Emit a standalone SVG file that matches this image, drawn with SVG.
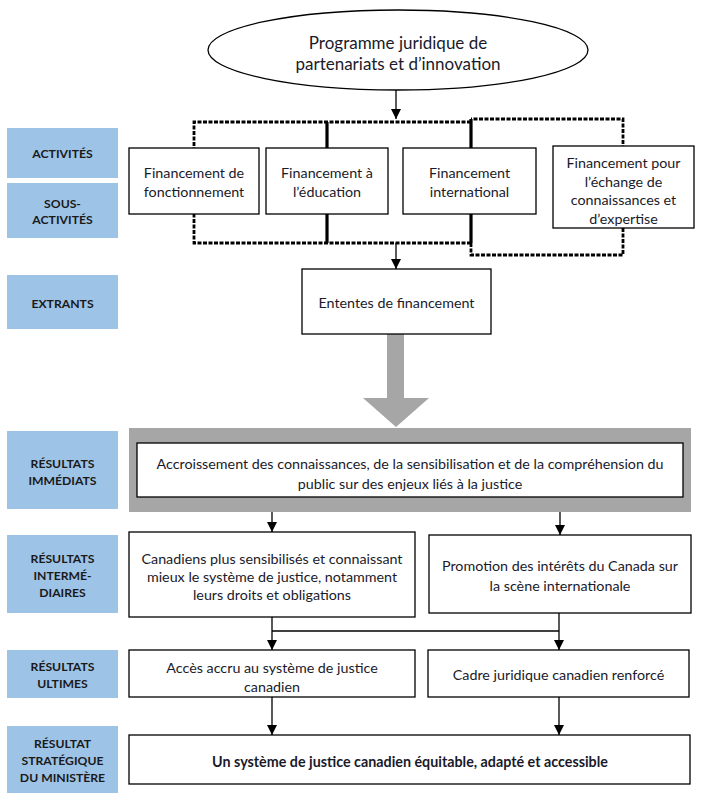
<svg xmlns="http://www.w3.org/2000/svg" width="707" height="805" viewBox="0 0 707 805">
<style>
.lbl{fill:#9DC3E6}
.lt{font-family:Lato,"Noto Sans",sans-serif;font-weight:bold;font-size:12.2px;fill:#1a1a1a;text-anchor:middle;dominant-baseline:central}
.box{fill:#fff;stroke:#000;stroke-width:1.3}
.t{font-family:Lato,"Noto Sans",sans-serif;font-size:14.3px;fill:#1a1a2a;text-anchor:middle;dominant-baseline:central}
.tb{font-weight:bold}
.ln{fill:none;stroke:#000;stroke-width:1.3}
.dot{fill:none;stroke:#000;stroke-width:2.8;stroke-dasharray:4 1.5}
.solid{fill:none;stroke:#000;stroke-width:3.2}
</style>
<defs>
<marker id="ah" markerUnits="userSpaceOnUse" markerWidth="10" markerHeight="10" viewBox="0 0 10 10" refX="10" refY="5" orient="auto">
<path d="M0,0 L10,5 L0,10 Z" fill="#000"/>
</marker>
<clipPath id="c4"><rect x="553" y="146" width="141" height="82"/></clipPath>
</defs>

<g id="labels">
<g id="lbl-activites"><rect class="lbl" x="7" y="128" width="111" height="50"/><text class="lt" x="62.5" y="153">ACTIVITÉS</text></g>
<g id="lbl-sous-activites"><rect class="lbl" x="7" y="183" width="111" height="55"/><text class="lt" x="62.5" y="203">SOUS-</text><text class="lt" x="62.5" y="219">ACTIVITÉS</text></g>
<g id="lbl-extrants"><rect class="lbl" x="7" y="275" width="111" height="54"/><text class="lt" x="62.5" y="303">EXTRANTS</text></g>
<g id="lbl-immediats"><rect class="lbl" x="7" y="431" width="111" height="78"/><text class="lt" x="62.5" y="463">RÉSULTATS</text><text class="lt" x="62.5" y="480">IMMÉDIATS</text></g>
<g id="lbl-intermediaires"><rect class="lbl" x="7" y="535" width="111" height="78"/><text class="lt" x="62.5" y="558">RÉSULTATS</text><text class="lt" x="62.5" y="575">INTERMÉ-</text><text class="lt" x="62.5" y="592">DIAIRES</text></g>
<g id="lbl-ultimes"><rect class="lbl" x="7" y="650" width="111" height="48"/><text class="lt" x="62.5" y="666">RÉSULTATS</text><text class="lt" x="62.5" y="683">ULTIMES</text></g>
<g id="lbl-strategique"><rect class="lbl" x="7" y="726" width="111" height="67"/><text class="lt" x="62.5" y="743">RÉSULTAT</text><text class="lt" x="62.5" y="760">STRATÉGIQUE</text><text class="lt" x="62.5" y="777">DU MINISTÈRE</text></g>
</g>

<g id="connectors">
<path class="dot" d="M471,122 H194 V243 H471"/>
<path class="dot" d="M471,243 V255 H623 V119 H471"/>
<path class="solid" d="M471,119 V243"/>
<path class="solid" d="M327,122 V243"/>
<path class="ln" d="M396,90 V119" marker-end="url(#ah)"/>
<path class="ln" d="M396,243 V269" marker-end="url(#ah)"/>
<polygon points="387,334 404,334 404,398 429,398 396,427 363,398 387,398" fill="#A6A6A6"/>
<path class="ln" d="M272,497 V532" marker-end="url(#ah)"/>
<path class="ln" d="M560,497 V535" marker-end="url(#ah)"/>
<path class="ln" d="M272,617 V650" marker-end="url(#ah)"/>
<path class="ln" d="M272,631 H559"/>
<path class="ln" d="M559,613 V650" marker-end="url(#ah)"/>
<path class="ln" d="M272,697 V735" marker-end="url(#ah)"/>
<path class="ln" d="M559,697 V735" marker-end="url(#ah)"/>
</g>

<g id="programme">
<ellipse cx="398" cy="50" rx="190" ry="40" fill="#fff" stroke="#000" stroke-width="1.3"/>
<text class="t" x="398" y="42" style="font-size:17px">Programme juridique de</text>
<text class="t" x="398" y="63" style="font-size:17px">partenariats et d’innovation</text>
</g>

<g id="fin-fonctionnement"><rect class="box" x="129" y="148" width="130" height="66"/><text class="t" x="194" y="172">Financement de</text><text class="t" x="194" y="191">fonctionnement</text></g>
<g id="fin-education"><rect class="box" x="266" y="148" width="122" height="66"/><text class="t" x="327" y="172">Financement à</text><text class="t" x="327" y="191">l’éducation</text></g>
<g id="fin-international"><rect class="box" x="403" y="148" width="133" height="66"/><text class="t" x="469.5" y="172">Financement</text><text class="t" x="469.5" y="191">international</text></g>
<g id="fin-echange"><rect class="box" x="553" y="146" width="141" height="82"/>
<g clip-path="url(#c4)"><text class="t" x="623.5" y="162">Financement pour</text><text class="t" x="623.5" y="181">l’échange de</text><text class="t" x="623.5" y="199">connaissances et</text><text class="t" x="623.5" y="218">d’expertise</text></g></g>

<g id="ententes"><rect class="box" x="302" y="269" width="189" height="65"/><text class="t" x="396.5" y="302">Ententes de financement</text></g>

<g id="immediat">
<rect x="129" y="428" width="562" height="84" fill="#A6A6A6"/>
<rect class="box" x="137" y="443" width="546" height="54"/>
<text class="t" x="410" y="463">Accroissement des connaissances, de la sensibilisation et de la compréhension du</text>
<text class="t" x="410" y="483">public sur des enjeux liés à la justice</text>
</g>

<g id="int-canadiens"><rect class="box" x="129" y="532" width="286" height="85"/><text class="t" x="272" y="558">Canadiens plus sensibilisés et connaissant</text><text class="t" x="272" y="576">mieux le système de justice, notamment</text><text class="t" x="272" y="594">leurs droits et obligations</text></g>
<g id="int-promotion"><rect class="box" x="429" y="535" width="262" height="78"/><text class="t" x="560" y="565">Promotion des intérêts du Canada sur</text><text class="t" x="560" y="585">la scène internationale</text></g>

<g id="ult-acces"><rect class="box" x="129" y="650" width="286" height="47"/><text class="t" x="272" y="667">Accès accru au système de justice</text><text class="t" x="272" y="686">canadien</text></g>
<g id="ult-cadre"><rect class="box" x="428" y="650" width="261" height="47"/><text class="t" x="558.5" y="674">Cadre juridique canadien renforcé</text></g>

<g id="strategique"><rect class="box" x="129" y="735" width="561" height="49"/><text class="t tb" x="410" y="761">Un système de justice canadien équitable, adapté et accessible</text></g>
</svg>
